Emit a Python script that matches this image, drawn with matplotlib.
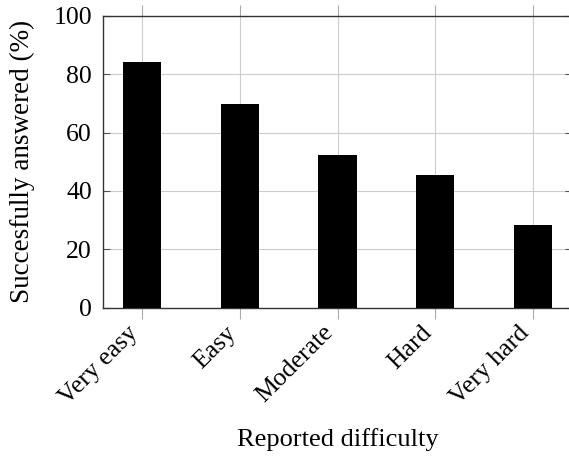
import matplotlib.pyplot as plt
from matplotlib.transforms import ScaledTranslation

plt.rcParams['font.family'] = ['Liberation Serif', 'DejaVu Serif']

# data
categories = ["Very easy", "Easy", "Moderate", "Hard", "Very hard"]
success = [84.0, 69.6, 52.3, 45.4, 28.3]
yticks = [0, 20, 40, 60, 80, 100]

fig = plt.figure(figsize=(5.69, 4.59), dpi=100)
ax = fig.add_axes([103 / 569, 1 - 307.7 / 459, 469 / 569, 292 / 459])

x = list(range(len(categories)))
ax.bar(x, success, width=0.39, color="black", zorder=3)

ax.set_xlim(-0.4, 4.4)
ax.set_ylim(0, 100)
ax.set_xticks(x)
ax.set_xticklabels(categories, rotation=45, ha="right", rotation_mode="anchor", fontsize=18.5)
ax.set_yticks(yticks)
ax.set_yticklabels([str(v) for v in yticks], fontsize=18.5)

ax.grid(True, color="#cccccc", linewidth=0.8, zorder=0)
ax.set_axisbelow(True)

ax.tick_params(axis="x", direction="out", length=8, width=0.8, color="#aaaaaa",
               top=True, bottom=True, pad=2)
ax.tick_params(axis="y", direction="in", length=5, width=0.8, color="#555555",
               left=True, right=True, pad=8)

# shift rotated labels a little to the left, like pgfplots' north east anchor
shift = ScaledTranslation(-15 / 100, 0, fig.dpi_scale_trans)
for lbl in ax.get_xticklabels():
    lbl.set_transform(lbl.get_transform() + shift)

for s in ax.spines.values():
    s.set_color("#333333")
    s.set_linewidth(1.0)

ax.set_ylabel("Succesfully answered (%)", fontsize=19.5)
ax.set_xlabel("Reported difficulty", fontsize=19)
ax.yaxis.set_label_coords(-(103 - 35) / 469, 0.5)
ax.xaxis.set_label_coords((337.5 - 103) / 469, -(428 - 307.7) / 292)

plt.savefig("out.png", dpi=100)
